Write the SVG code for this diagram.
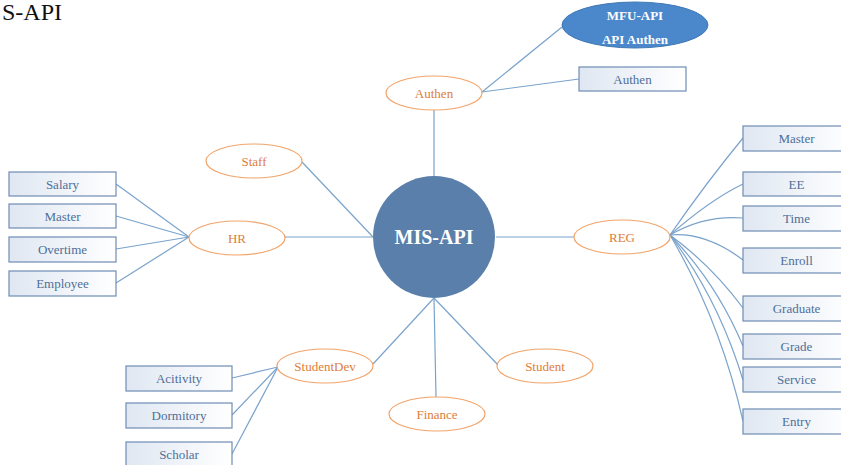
<svg xmlns="http://www.w3.org/2000/svg" width="841" height="465" viewBox="0 0 841 465">
<defs>
<linearGradient id="boxfill" x1="0" y1="0" x2="1" y2="0">
<stop offset="0" stop-color="#dfe7f2"/>
<stop offset="1" stop-color="#ffffff"/>
</linearGradient>
<style>
.box{fill:url(#boxfill);stroke:#6e8db5;stroke-width:1.2}
.btxt{font-family:'Liberation Serif','DejaVu Serif',serif;font-size:13px;fill:#4f6f99;text-anchor:middle}
.ell{fill:#ffffff;stroke:#f2a46a;stroke-width:1.2}
.etxt{font-family:'Liberation Serif','DejaVu Serif',serif;font-size:13px;fill:#dd7d3a;text-anchor:middle}
.con{fill:none;stroke:#7aa3cc;stroke-width:1.2}
.wtxt{font-family:'Liberation Serif','DejaVu Serif',serif;font-weight:bold;fill:#ffffff;text-anchor:middle}
</style>
</defs>
<rect width="841" height="465" fill="#ffffff"/>
<text x="2" y="20" font-family="'Liberation Serif','DejaVu Serif',serif" font-size="24" fill="#111111">S-API</text>

<g id="connectors">
<line class="con" x1="434" y1="110" x2="434" y2="176"/>
<line class="con" x1="482" y1="92" x2="562" y2="27"/>
<line class="con" x1="482" y1="92" x2="579" y2="79"/>
<line class="con" x1="496" y1="237" x2="574" y2="237"/>
<line class="con" x1="285" y1="237" x2="373" y2="237"/>
<line class="con" x1="302" y1="162" x2="373" y2="237"/>
<line class="con" x1="116" y1="184" x2="189" y2="237"/>
<line class="con" x1="116" y1="216" x2="189" y2="237"/>
<line class="con" x1="116" y1="249" x2="189" y2="237"/>
<line class="con" x1="116" y1="283" x2="189" y2="237"/>
<line class="con" x1="373" y1="364" x2="434" y2="298"/>
<line class="con" x1="436" y1="397" x2="434" y2="298"/>
<line class="con" x1="498" y1="365" x2="434" y2="298"/>
<line class="con" x1="232" y1="378" x2="278" y2="367"/>
<line class="con" x1="232" y1="415" x2="278" y2="367"/>
<line class="con" x1="232" y1="454" x2="278" y2="367"/>
<path class="con" d="M670,235 Q706,183 743,138"/>
<path class="con" d="M670,235 Q710,200 743,184"/>
<path class="con" d="M670,235 Q704,215 743,218"/>
<path class="con" d="M670,235 Q706,232 743,260"/>
<path class="con" d="M670,235 Q712,266 743,308"/>
<path class="con" d="M670,235 Q716,282 743,346"/>
<path class="con" d="M670,235 Q718,298 743,380"/>
<path class="con" d="M670,235 Q720,320 743,421"/>
</g>

<g id="mis-api">
<circle cx="434" cy="237" r="61" fill="#5a7fab"/>
<text class="wtxt" x="434" y="244" font-size="20">MIS-API</text>
</g>

<g id="mfu-api">
<ellipse cx="635" cy="25" rx="73" ry="23" fill="#4a88cb" stroke="#3f78b5" stroke-width="1"/>
<text class="wtxt" x="635" y="19.5" font-size="13">MFU-API</text>
<text class="wtxt" x="635" y="43.5" font-size="13">API Authen</text>
</g>

<g id="authen"><ellipse class="ell" cx="434" cy="93" rx="48" ry="17"/><text class="etxt" x="434" y="97.5">Authen</text></g>
<g id="authen-box"><rect class="box" x="579" y="67" width="107" height="24"/><text class="btxt" x="632.5" y="83.5">Authen</text></g>
<g id="staff"><ellipse class="ell" cx="254" cy="161" rx="48" ry="17"/><text class="etxt" x="254" y="165.5">Staff</text></g>
<g id="hr"><ellipse class="ell" cx="237" cy="238" rx="48" ry="17"/><text class="etxt" x="237" y="242.5">HR</text></g>
<g id="reg"><ellipse class="ell" cx="622" cy="237" rx="48" ry="17"/><text class="etxt" x="622" y="241.5">REG</text></g>
<g id="studentdev"><ellipse class="ell" cx="325" cy="366" rx="48" ry="17"/><text class="etxt" x="325" y="370.5">StudentDev</text></g>
<g id="finance"><ellipse class="ell" cx="437" cy="414" rx="48" ry="17"/><text class="etxt" x="437" y="418.5">Finance</text></g>
<g id="student"><ellipse class="ell" cx="545" cy="366" rx="48" ry="17"/><text class="etxt" x="545" y="370.5">Student</text></g>

<g id="hr-salary"><rect class="box" x="9" y="172" width="107" height="24"/><text class="btxt" x="62.5" y="188.5">Salary</text></g>
<g id="hr-master"><rect class="box" x="9" y="204" width="107" height="24"/><text class="btxt" x="62.5" y="220.5">Master</text></g>
<g id="hr-overtime"><rect class="box" x="9" y="237" width="107" height="25"/><text class="btxt" x="62.5" y="254">Overtime</text></g>
<g id="hr-employee"><rect class="box" x="9" y="271" width="107" height="25"/><text class="btxt" x="62.5" y="288">Employee</text></g>

<g id="sd-acitivity"><rect class="box" x="126" y="366" width="106" height="25"/><text class="btxt" x="179" y="383">Acitivity</text></g>
<g id="sd-dormitory"><rect class="box" x="126" y="403" width="106" height="25"/><text class="btxt" x="179" y="420">Dormitory</text></g>
<g id="sd-scholar"><rect class="box" x="126" y="442" width="106" height="25"/><text class="btxt" x="179" y="459">Scholar</text></g>

<g id="reg-master"><rect class="box" x="743" y="126" width="107" height="25"/><text class="btxt" x="796.5" y="143">Master</text></g>
<g id="reg-ee"><rect class="box" x="743" y="172" width="107" height="24"/><text class="btxt" x="796.5" y="188.5">EE</text></g>
<g id="reg-time"><rect class="box" x="743" y="206" width="107" height="25"/><text class="btxt" x="796.5" y="223">Time</text></g>
<g id="reg-enroll"><rect class="box" x="743" y="248" width="107" height="25"/><text class="btxt" x="796.5" y="265">Enroll</text></g>
<g id="reg-graduate"><rect class="box" x="743" y="296" width="107" height="25"/><text class="btxt" x="796.5" y="313">Graduate</text></g>
<g id="reg-grade"><rect class="box" x="743" y="334" width="107" height="25"/><text class="btxt" x="796.5" y="351">Grade</text></g>
<g id="reg-service"><rect class="box" x="743" y="367" width="107" height="25"/><text class="btxt" x="796.5" y="384">Service</text></g>
<g id="reg-entry"><rect class="box" x="743" y="409" width="107" height="25"/><text class="btxt" x="796.5" y="426">Entry</text></g>
</svg>
